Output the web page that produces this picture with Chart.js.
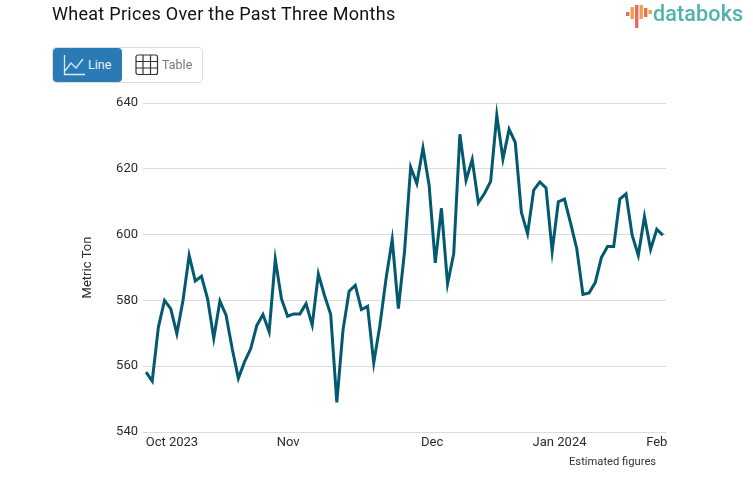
<!DOCTYPE html>
<html>
<head>
<meta charset="utf-8">
<title>Wheat Prices Over the Past Three Months</title>
<script src="https://cdn.jsdelivr.net/npm/chart.js@4"></script>
<style>
    html, body { margin: 0; padding: 0; background: #fff; font-family: Roboto, sans-serif; }
    #page { position: relative; width: 753px; height: 498px; overflow: hidden; }
    #chartBox { position: absolute; left: 0; top: 0; width: 753px; height: 498px; }
    #title { position: absolute; left: 52px; top: 2px; font-size: 18px; line-height: 24px; color: #111; letter-spacing: 0.28px; }
    #logo { position: absolute; left: 626px; top: 2px; }
    #logoText { position: absolute; left: 653px; top: 0; font-size: 21.5px; line-height: 28px; font-weight: 500; color: #4fb3ab; letter-spacing: 0.15px; }
    #switcher { position: absolute; left: 52px; top: 47px; width: 149px; height: 34px; border: 1px solid #ddd; border-radius: 4px; }
    #btnLine { position: absolute; left: 0; top: 0; width: 69px; height: 34px; background: #2a7ab5; border-radius: 4px; color: #eef4f9; font-size: 12.5px; }
    #btnTable { position: absolute; left: 69px; top: 0; width: 80px; height: 34px; color: #777; font-size: 12.5px; }
    #btnLine span, #btnTable span { position: absolute; top: 9px; line-height: 16px; }
    #btnLine svg, #btnTable svg { position: absolute; }
    #note { position: absolute; left: 569px; top: 455px; font-size: 11.2px; line-height: 14px; color: #333; }
</style>
</head>
<body>
<div id="page">
    <div id="chartBox"><canvas id="wheatChart" width="753" height="498"></canvas></div>
    <div id="title">Wheat Prices Over the Past Three Months</div>
    <svg id="logo" width="26" height="28">
        <rect x="0" y="10" width="3.4" height="4" fill="#ee6a5a"/>
        <rect x="4.5" y="5" width="3.4" height="12" fill="#f0a04b"/>
        <rect x="9" y="3" width="3.4" height="23" fill="#ea6a5c"/>
        <rect x="13.5" y="3" width="3.4" height="14" fill="#f0a04b"/>
        <rect x="18" y="6" width="3.4" height="9" fill="#ea6a5c"/>
        <rect x="22.5" y="8" width="3.4" height="4" fill="#f0a04b"/>
    </svg>
    <div id="logoText">databoks</div>
    <div id="switcher">
        <div id="btnLine">
            <svg style="left:10px;top:6px" width="23" height="22" fill="none" stroke="#dfeaf3" stroke-width="1.3">
                <path d="M1.5 1 V20.5 H22"/>
                <path d="M2 17 L8 9 L13 14 L20 5"/>
            </svg>
            <span style="left:35px">Line</span>
        </div>
        <div id="btnTable">
            <svg style="left:13px;top:6px" width="24" height="22" fill="none" stroke="#333" stroke-width="1.2">
                <rect x="1" y="1" width="21.5" height="19.5" rx="2"/>
                <path d="M8 1 V20.5 M15.5 1 V20.5 M1 7.5 H22.5 M1 14 H22.5"/>
            </svg>
            <span style="left:40px">Table</span>
        </div>
    </div>
    <div id="note">Estimated figures</div>
</div>
<script>
    // Valeurs
    const wheatPrices = [
        558.2, 555.5, 571.9, 580, 577.5, 569.9, 580, 593.7, 585.9, 587.3,
        580.5, 568.5, 579.8, 575.5, 565.3, 556.3, 561.3, 565.3, 572.4, 575.7,
        570.5, 592.5, 580.5, 575.2, 575.9, 575.9, 579, 572.5, 588, 581.5,
        575.8, 549, 570.9, 582.8, 584.6, 577.2, 578.2, 561, 572.4, 586.6,
        598.5, 577.5, 594.7, 620.5, 615.5, 626.3, 615, 591.4, 608, 585,
        594.2, 630.5, 616.5, 622.8, 609.7, 612.5, 616.2, 636.3, 623, 632,
        628, 606.7, 600.3, 613.5, 616, 614.2, 595, 610, 610.8, 603.4,
        595.7, 581.8, 582.3, 585.4, 593, 596.4, 596.4, 610.8, 612.4, 599.8,
        593.7, 605.5, 595.5, 601.6, 599.8
    ];
    const monthPositions = [4.2, 23.1, 46.5, 67.2, 83];
    const monthLabels = ['Oct 2023', 'Nov', 'Dec', 'Jan 2024', 'Feb'];
    const yTicks = [540, 560, 580, 600, 620, 640];

    const ctx = document.getElementById('wheatChart').getContext('2d');
    new Chart(ctx, {
        type: 'line',
        data: {
            datasets: [{
                label: 'Metric Ton',
                data: wheatPrices.map(function(v, i) { return { x: i, y: v }; }),
                borderColor: '#03596f',
                borderWidth: 3,
                pointRadius: 0,
                tension: 0,
                fill: false
            }]
        },
        options: {
            responsive: false,
            animation: false,
            layout: { padding: { left: 80, right: 87, top: 103, bottom: 41 } },
            plugins: { legend: { display: false }, tooltip: { enabled: false } },
            scales: {
                x: {
                    type: 'linear',
                    min: -0.5,
                    max: 84.5,
                    afterFit: function(scale) { scale.height = 25; },
                    afterBuildTicks: function(scale) {
                        scale.ticks = monthPositions.map(function(p) { return { value: p }; });
                    },
                    grid: { display: false, drawTicks: false },
                    border: { display: false },
                    ticks: {
                        autoSkip: false,
                        maxRotation: 0,
                        padding: 3,
                        color: '#2b2b2b',
                        font: { family: 'Roboto', size: 13 },
                        callback: function(value) {
                            return monthLabels[monthPositions.indexOf(value)];
                        }
                    }
                },
                y: {
                    min: yTicks[0],
                    max: yTicks[yTicks.length - 1],
                    afterFit: function(scale) { scale.width = 63; },
                    grid: { color: '#dcdcdc', lineWidth: 1, drawTicks: false },
                    border: { display: false },
                    ticks: {
                        stepSize: 20,
                        padding: 5,
                        color: '#2b2b2b',
                        font: { family: 'Roboto', size: 13 }
                    },
                    title: {
                        display: true,
                        text: 'Metric Ton',
                        color: '#2b2b2b',
                        padding: 0,
                        font: { family: 'Roboto', size: 13 }
                    }
                }
            }
        }
    });
</script>
</body>
</html>
